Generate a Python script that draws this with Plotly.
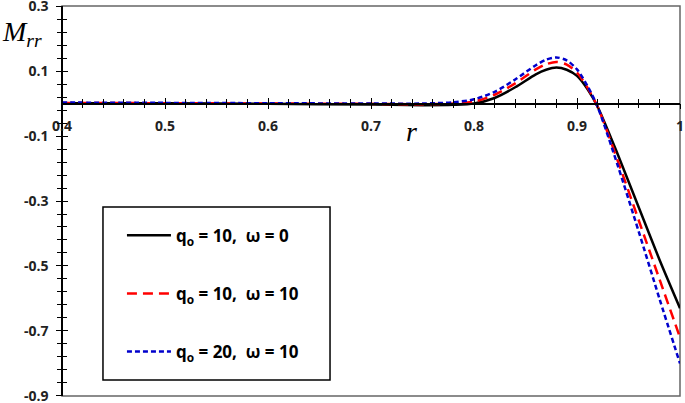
import plotly.graph_objects as go

# ---- data ----
r = [0.40, 0.50, 0.60, 0.70, 0.75, 0.78, 0.80, 0.82, 0.84, 0.86, 0.87, 0.88,
     0.89, 0.90, 0.91, 0.92, 0.94, 0.96, 0.98, 1.00]
m_q10_w0 = [0.001, 0.0005, -0.001, -0.003, -0.005, -0.004, 0.0, 0.017, 0.050, 0.090,
            0.104, 0.111, 0.104, 0.085, 0.045, -0.010, -0.160, -0.320, -0.480, -0.630]
m_q10_w10 = [0.002, 0.001, 0.0, -0.001, -0.002, 0.0, 0.006, 0.027, 0.062, 0.105,
             0.121, 0.128, 0.120, 0.095, 0.050, -0.010, -0.180, -0.360, -0.540, -0.720]
m_q20_w10 = [0.003, 0.002, 0.001, 0.0, 0.0, 0.004, 0.013, 0.036, 0.074, 0.118,
             0.135, 0.142, 0.133, 0.105, 0.055, -0.010, -0.195, -0.395, -0.600, -0.800]

names = ["q<sub>o</sub> = 10,\u00a0 ω = 0",
         "q<sub>o</sub> = 10,\u00a0 ω = 10",
         "q<sub>o</sub> = 20,\u00a0 ω = 10"]
x_ticks = [0.4, 0.5, 0.6, 0.7, 0.8, 0.9, 1.0]
x_tick_text = ["0.4", "0.5", "0.6", "0.7", "0.8", "0.9", "1"]
y_ticks = [0.3, 0.1, -0.1, -0.3, -0.5, -0.7, -0.9]
y_tick_text = ["0.3", "0.1", "-0.1", "-0.3", "-0.5", "-0.7", "-0.9"]

X_RANGE = [0.4, 1.0]
Y_RANGE = [-0.9002, 0.3002]

fig = go.Figure()
styles = [dict(color="black", width=2.5, dash="solid"),
          dict(color="red", width=2.5, dash="10px,6px"),
          dict(color="#0000CC", width=2.5, dash="5px,3px")]
for i, (vals, st) in enumerate(zip([m_q10_w0, m_q10_w10, m_q20_w10], styles)):
    fig.add_trace(go.Scatter(x=r, y=vals, mode="lines", name=names[i],
                             line=dict(shape="spline", smoothing=0.8, **st),
                             legendgroup=f"g{i}"))
# empty helper traces so the overlay axes (crossing ticks) are drawn
fig.add_trace(go.Scatter(x=[], y=[], xaxis="x2", yaxis="y2", showlegend=False,
                         hoverinfo="skip"))
fig.add_trace(go.Scatter(x=[], y=[], xaxis="x3", yaxis="y3", showlegend=False,
                         hoverinfo="skip"))

tickfont = dict(family="Open Sans", size=14, color="#222", weight="bold")
common_x = dict(range=X_RANGE, anchor="free", position=0.75, showgrid=False,
                zeroline=False, showline=True, linecolor="black", linewidth=1.5,
                tickmode="array", tickvals=x_ticks, ticktext=x_tick_text,
                tickwidth=1.2, automargin=False)
common_y = dict(range=Y_RANGE, anchor="free", position=0, showgrid=False,
                zeroline=False, showline=True, linecolor="black", linewidth=1.5,
                tickmode="array", tickvals=y_ticks, ticktext=y_tick_text,
                tickwidth=1.2, automargin=False)


def minor(side, dt, t0):
    return dict(ticks=side, dtick=dt, tick0=t0, ticklen=4, tickwidth=1.2,
                tickcolor="black")


fig.update_layout(
    template="none",
    width=685, height=403,
    margin=dict(l=62, r=5, t=6, b=7, autoexpand=False),
    paper_bgcolor="white", plot_bgcolor="white",
    showlegend=True,
    # primary axes: labels only (transparent long ticks push labels away)
    xaxis=dict(**common_x, ticks="outside", ticklen=10, tickcolor="rgba(0,0,0,0)",
               tickfont=tickfont, ticklabeloverflow="allow"),
    xaxis2=dict(**common_x, overlaying="x", ticks="inside", ticklen=5,
                tickcolor="black", showticklabels=False,
                minor=minor("inside", 0.02, 0.4)),
    xaxis3=dict(**common_x, overlaying="x", ticks="outside", ticklen=5,
                tickcolor="black", showticklabels=False,
                minor=minor("outside", 0.02, 0.4)),
    yaxis=dict(**common_y, ticks="outside", ticklen=10, tickcolor="rgba(0,0,0,0)",
               tickfont=tickfont, ticklabeloverflow="allow"),
    yaxis2=dict(**common_y, overlaying="y", side="left", ticks="inside", ticklen=5,
                tickcolor="black", showticklabels=False,
                minor=minor("inside", 0.04, 0.3)),
    yaxis3=dict(**common_y, overlaying="y", side="left", ticks="outside", ticklen=5,
                tickcolor="black", showticklabels=False,
                minor=minor("outside", 0.04, 0.3)),
    legend=dict(x=0.097, y=0.457, xanchor="left", yanchor="top",
                bgcolor="rgba(0,0,0,0)", borderwidth=0,
                font=dict(family="Open Sans", size=17, color="black", weight="bold"),
                traceorder="grouped", tracegroupgap=33, itemwidth=44),
    shapes=[
        dict(type="rect", xref="paper", yref="paper", x0=0, x1=1, y0=0, y1=1,
             line=dict(color="#666", width=1.5), layer="below"),
        dict(type="rect", xref="paper", yref="paper", x0=0.0663, x1=0.4337,
             y0=0.041, y1=0.4846, line=dict(color="black", width=1.5),
             fillcolor="white", layer="below"),
    ],
    annotations=[
        dict(text="<i>M</i><sub><i>rr</i></sub>", xref="paper", yref="paper",
             x=-0.1, y=0.93, xanchor="left", yanchor="middle", showarrow=False,
             font=dict(family="Liberation Serif", size=28, color="black")),
        dict(text="<i>r</i>", xref="paper", yref="paper",
             x=(411 - 62) / 618, y=(396 - 131) / 390, xanchor="center",
             yanchor="middle", showarrow=False,
             font=dict(family="Liberation Serif", size=28, color="black")),
    ],
)
fig.write_html("out.html", config={"displayModeBar": False},
               post_script="document.body.style.margin='0px';")
